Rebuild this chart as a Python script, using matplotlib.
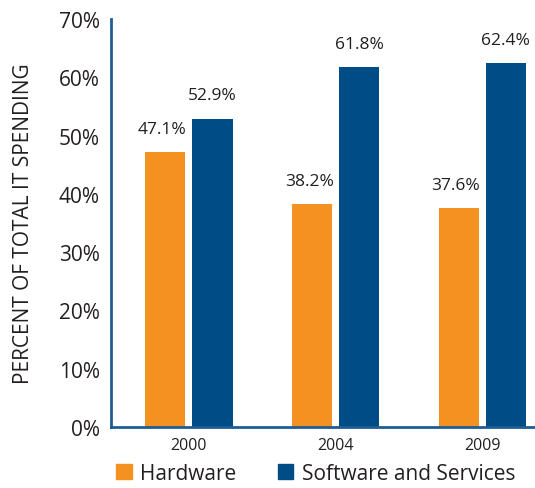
import matplotlib.pyplot as plt
import numpy as np
from matplotlib.patches import Patch

plt.rcParams['font.family'] = ['Open Sans', 'DejaVu Sans']

years = ['2000', '2004', '2009']
hardware = [47.1, 38.2, 37.6]
software = [52.9, 61.8, 62.4]

orange = '#F39220'
blue = '#004C86'
text_col = '#231F20'

fig = plt.figure(figsize=(5.35, 4.89), dpi=100)
ax = fig.add_axes([0.2075, 0.125, 0.79, 0.834])

x = np.arange(len(years))
w = 0.274
off = 0.161
ax.bar(x - off, hardware, w, color=orange)
ax.bar(x + off, software, w, color=blue)

for xi, v in zip(x - off, hardware):
    ax.annotate(f'{v:.1f}%', (xi, v), xytext=(-2, 11), textcoords='offset points',
                ha='center', va='bottom', fontsize=12.5, color=text_col)
for xi, v in zip(x + off, software):
    ax.annotate(f'{v:.1f}%', (xi, v), xytext=(0, 11), textcoords='offset points',
                ha='center', va='bottom', fontsize=12.5, color=text_col)

ax.set_xlim(-0.53, 2.35)
ax.set_ylim(0, 70)
ax.set_yticks(range(0, 71, 10))
ax.set_yticklabels([f'{t}%' for t in range(0, 71, 10)])
ax.set_xticks(x)
ax.set_xticklabels(years)
ax.tick_params(axis='y', length=0, labelsize=15, pad=8, colors=text_col)
ax.tick_params(axis='x', length=0, labelsize=11.5, pad=7, colors=text_col)

for s in ['top', 'right']:
    ax.spines[s].set_visible(False)
for s in ['left', 'bottom']:
    ax.spines[s].set_color('#1F5C94')
    ax.spines[s].set_linewidth(2)

ax.set_ylabel('PERCENT OF TOTAL IT SPENDING', fontsize=15, color=text_col, labelpad=18)

handles = [Patch(color=orange, label='Hardware'),
           Patch(color=blue, label='Software and Services')]
fig.legend(handles=handles, loc='lower center', bbox_to_anchor=(0.59, -0.03), ncol=2,
           frameon=False, fontsize=15, handlelength=0.75, handleheight=0.75,
           handletextpad=0.4, columnspacing=2.0, labelcolor=text_col)

fig.savefig('out.png', dpi=100)
